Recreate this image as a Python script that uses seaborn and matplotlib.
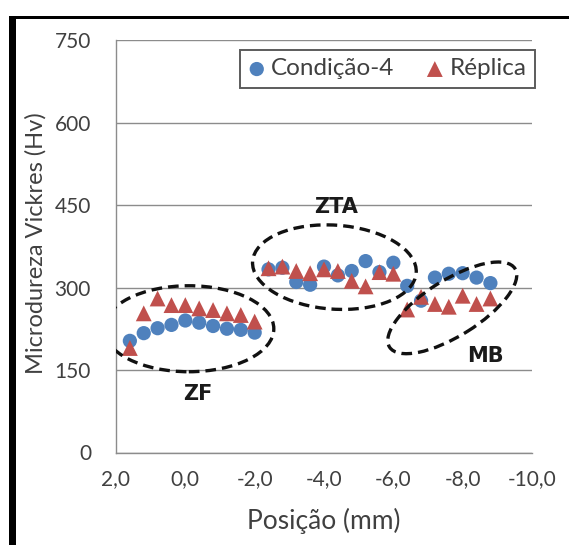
import matplotlib
matplotlib.use("Agg")
import matplotlib.pyplot as plt
import seaborn as sns
import pandas as pd
from matplotlib.patches import Ellipse, Rectangle
from matplotlib.transforms import Affine2D, ScaledTranslation
from matplotlib.ticker import MultipleLocator

# ---- data ----
posicao = [1.6, 1.2, 0.8, 0.4, 0.0, -0.4, -0.8, -1.2, -1.6, -2.0,
           -2.4, -2.8, -3.2, -3.6, -4.0, -4.4, -4.8, -5.2, -5.6, -6.0,
           -6.4, -6.8, -7.2, -7.6, -8.0, -8.4, -8.8]
condicao4 = [203, 217, 226, 232, 240, 236, 230, 225, 223, 218,
             333, 336, 310, 305, 338, 322, 330, 348, 328, 345,
             303, 276, 318, 325, 326, 318, 308]
replica = [190, 253, 280, 268, 268, 262, 259, 253, 250, 238,
           335, 338, 330, 326, 333, 330, 312, 302, 328, 325,
           260, 283, 270, 265, 285, 270, 280]
series_names = ["Condição-4", "Réplica"]
x_ticks = [2, 0, -2, -4, -6, -8, -10]
x_tick_labels = ["2,0", "0,0", "-2,0", "-4,0", "-6,0", "-8,0", "-10,0"]
y_ticks = [0, 150, 300, 450, 600, 750]
zone_labels = ["ZF", "ZTA", "MB"]

df = pd.DataFrame({
    "pos": posicao * 2,
    "hv": condicao4 + replica,
    "serie": [series_names[0]] * len(posicao) + [series_names[1]] * len(posicao),
})

sns.set_style("white")
plt.rcParams["font.family"] = ["Lato", "DejaVu Sans"]

W, H = 569, 545
fig = plt.figure(figsize=(W / 100, H / 100), dpi=100)
ax = fig.add_axes([116 / W, 1 - 452.5 / H, 416 / W, 412.5 / H])

blue = "#4F81BD"
red = "#C0504D"
sns.scatterplot(data=df[df.serie == series_names[0]], x="pos", y="hv", ax=ax,
                color=blue, marker="o", s=105, edgecolor="none", label=series_names[0], zorder=3)
sns.scatterplot(data=df[df.serie == series_names[1]], x="pos", y="hv", ax=ax,
                color=red, marker="^", s=130, edgecolor="none", label=series_names[1], zorder=4)

ax.set_xlim(2, -10)
ax.set_ylim(0, 750)
ax.set_xticks(x_ticks)
ax.set_xticklabels(x_tick_labels)
ax.set_yticks(y_ticks)
ax.xaxis.set_minor_locator(MultipleLocator(0.4))
ax.yaxis.set_minor_locator(MultipleLocator(30))

grey = "#8c8c8c"
for s in ["top", "right"]:
    ax.spines[s].set_visible(False)
for s in ["left", "bottom"]:
    ax.spines[s].set_color(grey)
    ax.spines[s].set_linewidth(1.0)
ax.yaxis.grid(True, color=grey, linewidth=1.0)
ax.xaxis.grid(False)
ax.set_axisbelow(True)

ax.tick_params(which="major", direction="inout", length=8, width=1, color=grey,
               labelsize=15, labelcolor="#404040")
ax.tick_params(which="minor", direction="inout", length=5, width=0.8, color=grey)
ax.tick_params(axis="y", which="major", pad=14)
ax.tick_params(axis="x", which="major", pad=8)

ax.set_xlabel("Posição (mm)", fontsize=19, color="#404040")
ax.set_ylabel("Microdureza Vickres (Hv)", fontsize=17, color="#404040")
ax.xaxis.set_label_coords(0.5, -0.135)
ax.yaxis.set_label_coords(-0.166, 0.508)

leg = ax.legend(loc="upper right", bbox_to_anchor=(1.007, 0.976), ncol=2, frameon=True,
                fancybox=False, edgecolor="#333333", fontsize=17.5, handlelength=0.7,
                handletextpad=0.25, columnspacing=1.3, borderpad=0.35, borderaxespad=0.0,
                markerscale=1.0)
leg.get_frame().set_linewidth(1.4)
for t in leg.get_texts():
    t.set_color("#404040")

# dashed ellipses: centres in data units, sizes in pixels
def zone(cx, cy, w, h, ang):
    tr = Affine2D() + ScaledTranslation(cx, cy, ax.transData)
    e = Ellipse((0, 0), w, h, angle=ang, transform=tr, fill=False,
                edgecolor="#111111", linewidth=2.4, linestyle=(0, (3.2, 1.8)), zorder=5)
    ax.add_patch(e)

zone(-0.1, 225, 170, 86, 0)
zone(-4.3, 337, 164, 84, -4)
zone(-7.7, 263, 148, 56, 32)

ax.text(-0.35, 107, zone_labels[0], fontsize=15, fontweight="bold", color="#1a1a1a",
        ha="center", va="center", family=["DejaVu Sans"])
ax.text(-4.35, 447, zone_labels[1], fontsize=15, fontweight="bold", color="#1a1a1a",
        ha="center", va="center", family=["DejaVu Sans"])
ax.text(-8.65, 175, zone_labels[2], fontsize=15, fontweight="bold", color="#1a1a1a",
        ha="center", va="center", family=["DejaVu Sans"])

# screenshot frame
fig.add_artist(Rectangle((9 / W, 0), 7 / W, 1 - 16 / H, transform=fig.transFigure,
                         color="black", lw=0))
fig.add_artist(Rectangle((9 / W, 1 - 19 / H), 1 - 9 / W, 3 / H, transform=fig.transFigure,
                         color="black", lw=0))

fig.savefig("out.png", dpi=100)
